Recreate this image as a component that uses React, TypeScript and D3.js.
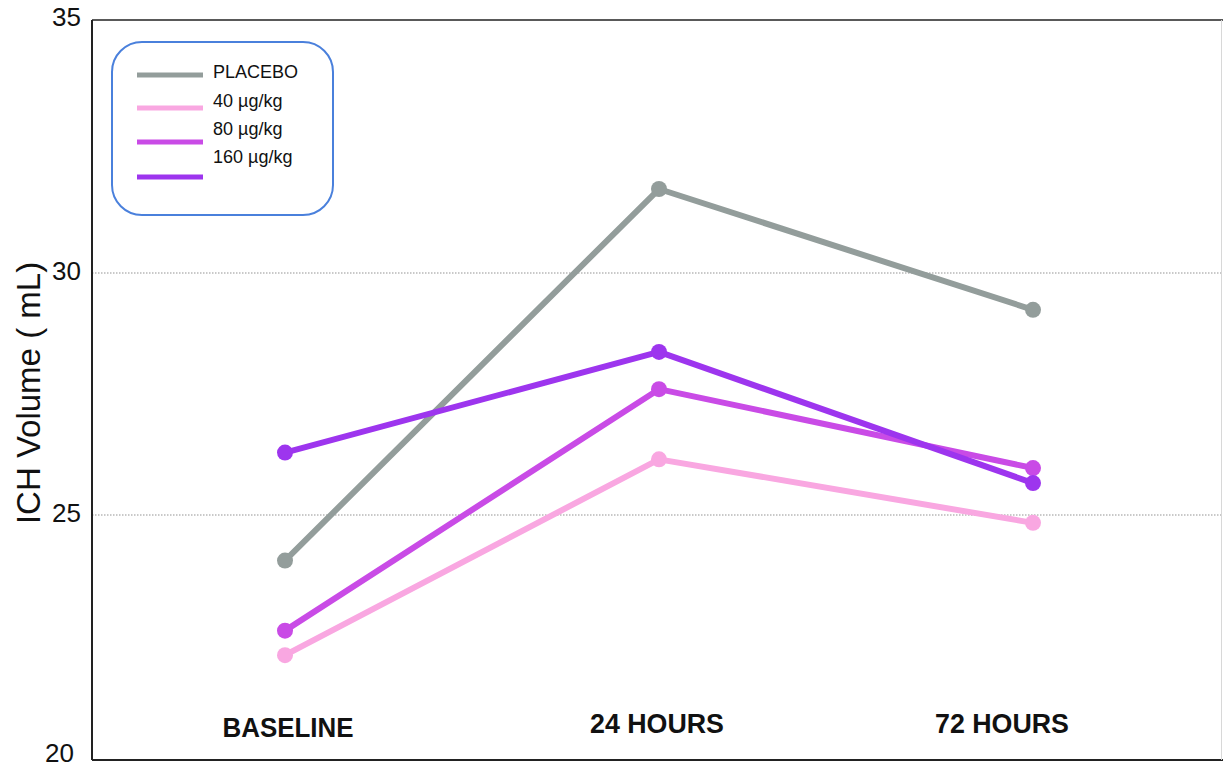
import React from "react";
import * as d3 from "d3";

const categories = ["BASELINE", "24 HOURS", "72 HOURS"];
const seriesNames = ["PLACEBO", "40 µg/kg", "80 µg/kg", "160 µg/kg"];
const placebo = [24.07, 31.66, 29.24];
const dose40 = [22.14, 26.15, 24.84];
const dose80 = [22.64, 27.6, 25.97];
const dose160 = [26.29, 28.37, 25.66];
const yTicks = [20, 25, 30, 35];
const gridTicks = [25, 30];
const colors = ["#939d9b", "#f9a7e1", "#c94be6", "#9d35ee"];

const W = 1223;
const H = 769;

export default function App() {
  const seriesValues = [placebo, dose40, dose80, dose160];
  const x = d3.scalePoint<string>().domain(categories).range([285, 1033]);
  // piecewise-linear scale matching the reference axis spacing
  const y = d3.scaleLinear().domain([20, 25, 30, 35]).range([760, 515, 273, 20]);
  const line = d3
    .line<[string, number]>()
    .x((d) => x(d[0]) as number)
    .y((d) => y(d[1]));
  const axisX = 92;
  const labelX = [288, 657, 1002];

  return (
    <svg
      width={W}
      height={H}
      style={{ position: "absolute", left: 0, top: 0, background: "#fff" }}
      fontFamily="'Liberation Sans', Arial, sans-serif"
    >
      {/* gridlines */}
      {gridTicks.map((t) => (
        <line
          key={t}
          x1={axisX}
          x2={1221}
          y1={y(t)}
          y2={y(t)}
          stroke="#b8b8b8"
          strokeWidth={1.3}
          strokeDasharray="1.5,1.5"
        />
      ))}
      {/* frame */}
      <line x1={axisX} x2={1223} y1={y(35)} y2={y(35)} stroke="#222" strokeWidth={1.6} />
      <line x1={axisX} x2={1223} y1={y(20)} y2={y(20)} stroke="#222" strokeWidth={2} />
      <line x1={axisX} x2={axisX} y1={y(35)} y2={y(20)} stroke="#222" strokeWidth={2} />
      <line x1={1221.5} x2={1221.5} y1={y(35)} y2={y(20)} stroke="#d8d8d8" strokeWidth={1} />

      {/* y tick labels */}
      {yTicks.map((t) => (
        <text
          key={t}
          x={t === 20 ? 45 : 52}
          y={t === 20 ? y(t) - 5 : y(t)}
          dy={t === 35 ? "-0.05em" : "0em"}
          fontSize={26}
          fill="#111"
          dominantBaseline="middle"
        >
          {t}
        </text>
      ))}

      {/* y axis title */}
      <text
        transform="translate(40,393) rotate(-90)"
        textAnchor="middle"
        fontSize={33}
        fill="#111"
      >
        ICH Volume ( mL)
      </text>

      {/* x category labels */}
      {categories.map((c, i) => (
        <text
          key={c}
          x={labelX[i]}
          y={i === 0 ? 737 : 733}
          textAnchor="middle"
          fontSize={27}
          fontWeight="bold"
          fill="#111"
          textLength={i === 0 ? 131 : 134}
          lengthAdjust="spacingAndGlyphs"
        >
          {c}
        </text>
      ))}

      {/* series */}
      {seriesValues.map((vals, si) => {
        const pts = categories.map((c, i) => [c, vals[i]] as [string, number]);
        return (
          <g key={seriesNames[si]}>
            <path d={line(pts) || ""} fill="none" stroke={colors[si]} strokeWidth={6} strokeLinejoin="round" />
            {pts.map((p) => (
              <circle key={p[0]} cx={x(p[0]) as number} cy={y(p[1])} r={8} fill={colors[si]} />
            ))}
          </g>
        );
      })}

      {/* legend */}
      <rect x={112} y={42} width={221} height={173} rx={30} ry={30} fill="#fff" stroke="#4a80dc" strokeWidth={2} />
      {seriesNames.map((n, i) => {
        const lineY = [75, 108, 142, 177][i];
        const textY = [73, 102, 130, 158][i];
        return (
          <g key={n}>
            <line x1={137} x2={203} y1={lineY} y2={lineY} stroke={colors[i]} strokeWidth={5} />
            <text x={213} y={textY} fontSize={18} fill="#111" dominantBaseline="middle">
              {n}
            </text>
          </g>
        );
      })}
    </svg>
  );
}
